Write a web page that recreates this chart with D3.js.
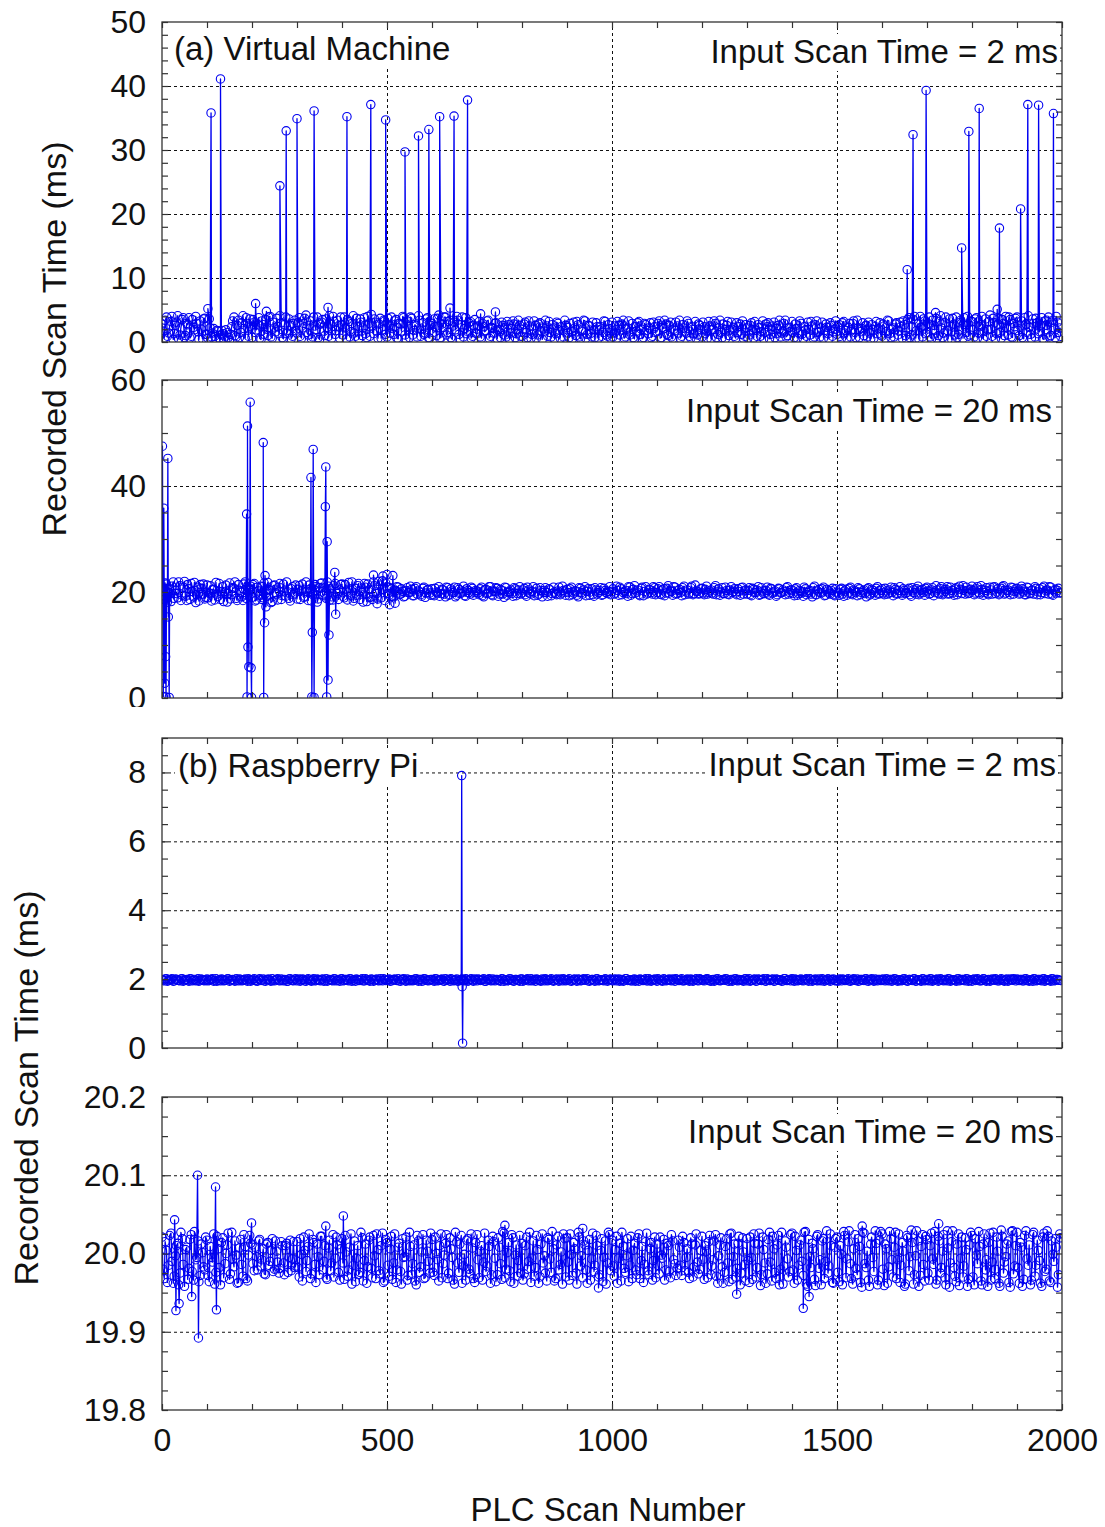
<!DOCTYPE html>
<html><head><meta charset="utf-8">
<script src="https://cdn.jsdelivr.net/npm/d3@7"></script>
<style>
body{margin:0;background:#fff}
svg{display:block}
text{font-family:"Liberation Sans",Arial,Helvetica,sans-serif;fill:#111}
</style>
</head><body>
<svg id="c" width="1105" height="1527"></svg>
<script>
// ---------------- DATA ----------------
// Samples estimated from the figure, in ms.
// "...Base" arrays: scan = index*5 ; "...Mid" arrays: scan = index*5 + 2
const vm2Base = [
2.8,0.6,3.9,1.4,3.2,0.4,2.6,4.1,1.1,3.5,0.7,2.9,3.8,0.9,2.3,4.0,1.6,3.3,0.5,3.7,
1.2,3.6,0.8,2.1,0.5,1.7,0.4,1.3,0.9,1.5,0.3,2.4,3.9,0.8,3.4,1.5,4.1,0.6,2.9,3.6,
0.7,3.1,1.9,3.8,0.4,2.7,3.5,1.0,4.0,0.6,2.2,3.7,1.3,3.0,0.5,3.9,1.8,2.6,0.9,3.4,
1.4,3.8,0.6,2.9,4.2,1.1,3.3,0.8,2.5,3.9,0.4,3.1,1.7,3.6,0.9,2.8,4.0,1.2,3.4,0.6,
2.7,3.9,0.5,3.2,1.6,4.1,0.9,2.4,3.6,1.0,3.8,0.7,2.9,4.3,1.3,3.1,0.6,3.7,1.9,3.3,
0.8,2.6,3.9,1.2,3.5,0.5,2.8,4.0,1.1,3.3,0.7,3.7,1.8,2.5,4.1,0.9,3.0,1.4,3.8,0.6,
2.9,3.6,1.0,4.2,0.7,2.3,3.9,1.5,3.4,0.4,3.1,4.0,1.2,2.7,0.8,3.8,1.6,3.2,0.9,3.5,
1.3,3.2,0.6,2.4,1.8,3.4,0.9,2.1,2.9,0.5,1.6,3.1,2.2,0.8,2.7,1.4,3.3,0.7,1.9,2.6,
0.9,2.8,1.5,3.3,0.6,2.0,2.6,1.1,3.0,0.4,1.7,2.5,3.2,0.8,2.2,1.3,2.9,0.6,1.8,3.4,
2.3,0.7,1.6,3.1,1.0,2.7,0.5,2.0,3.3,1.2,2.5,0.8,1.9,3.0,0.6,2.4,1.5,3.2,0.9,2.1,
3.1,1.4,0.6,2.6,1.9,3.4,0.8,2.2,1.1,2.9,0.5,1.7,3.2,2.0,0.7,2.7,1.3,3.0,0.9,2.4,
1.6,3.3,0.7,2.1,2.8,1.0,3.1,0.5,1.8,2.5,3.4,0.9,2.2,1.4,2.9,0.6,2.0,3.2,1.1,2.6,
0.8,2.4,1.7,3.2,0.5,2.0,2.9,1.2,3.4,0.7,1.9,2.6,1.0,3.1,2.3,0.6,1.5,2.8,3.3,0.9,
2.2,1.1,3.0,0.6,1.8,2.7,0.9,3.3,1.5,2.4,0.5,2.0,3.1,1.3,2.6,0.8,1.7,3.4,1.0,2.3,
3.2,0.7,2.1,1.4,2.9,0.5,1.9,3.1,1.1,2.5,0.8,3.3,1.6,2.2,0.6,2.8,1.3,3.0,0.9,2.0,
1.2,2.7,0.6,3.2,1.8,2.3,0.8,2.9,1.5,3.4,0.7,2.1,1.0,2.6,3.1,0.5,1.9,2.4,1.3,3.0,
0.9,2.5,1.6,3.3,0.7,2.2,2.8,1.1,3.1,0.6,2.7,0.4,3.8,1.1,3.5,0.6,2.9,4.0,0.8,3.3,
1.5,3.9,0.5,2.6,3.7,1.0,4.1,0.7,3.0,1.8,3.6,0.4,2.8,3.9,1.2,3.4,0.6,2.5,4.0,1.1,
3.2,0.8,3.8,1.4,2.7,0.5,3.6,1.9,4.2,0.9,3.0,1.3,3.7,0.6,2.9,4.0,1.1,3.5,0.7,2.4,
3.9,1.0,3.3,0.5,2.8,4.1,1.2,3.6,0.8,3.0,1.6,3.8,0.4,2.6,3.9,1.0,3.4,0.7,3.1,2.2
];
const vm2Mid = [
1.7,3.4,0.9,2.5,4.0,1.3,3.1,0.5,2.2,3.8,1.0,2.7,0.6,3.5,1.9,2.9,0.4,2.0,3.6,1.2,
0.6,2.2,1.4,0.9,1.8,0.6,1.1,0.5,1.9,0.7,1.2,3.3,1.0,2.6,0.7,3.0,2.1,3.8,0.9,2.4,
3.5,1.5,2.8,0.6,3.3,1.2,2.0,3.9,0.8,3.1,1.6,2.4,4.1,0.7,2.7,1.3,3.6,0.5,2.9,1.8,
3.0,0.9,2.2,3.7,1.5,2.6,0.5,3.9,1.9,0.7,2.8,3.5,1.0,2.3,4.1,0.6,3.2,1.8,2.5,3.9,
1.1,2.2,3.5,0.8,2.9,1.4,3.7,0.5,3.1,2.2,1.3,4.0,0.9,2.5,3.6,1.7,2.8,0.6,3.4,1.2,
3.7,1.4,2.1,3.3,0.6,2.9,1.7,3.8,0.5,2.4,3.9,1.1,2.7,0.8,3.4,2.0,1.2,3.6,0.7,2.6,
1.5,2.4,3.7,0.6,2.8,3.9,1.1,3.2,0.7,2.5,1.9,3.4,0.5,3.9,2.1,1.3,3.0,0.6,2.6,1.4,
2.5,0.8,2.9,1.6,3.3,0.6,2.3,1.4,3.0,1.9,0.7,2.6,1.1,3.2,0.5,2.1,2.8,1.3,3.4,0.9,
2.0,3.1,0.7,2.5,1.2,3.3,0.6,2.8,1.8,2.2,3.4,0.9,1.5,2.7,0.5,3.1,1.9,2.4,0.8,2.6,
1.4,2.9,0.5,2.2,3.2,0.8,1.7,3.4,0.6,2.6,1.3,3.1,0.7,2.4,1.9,0.9,3.3,1.1,2.7,0.6,
0.8,2.5,3.2,1.1,2.8,0.6,2.0,3.3,1.6,0.7,2.4,3.0,1.2,0.5,2.9,1.8,2.2,0.7,3.1,1.5,
2.9,0.6,2.3,3.4,1.2,2.6,0.8,2.0,3.1,1.4,0.6,2.7,1.7,3.3,0.9,2.4,1.3,0.6,2.8,1.9,
3.1,1.3,0.6,2.5,1.9,3.3,0.7,2.2,1.5,2.8,0.5,3.2,1.8,2.0,0.9,3.0,2.4,1.2,0.6,2.7,
0.6,2.6,1.9,3.2,0.9,2.3,1.6,0.5,2.8,3.0,1.2,2.5,0.7,2.1,3.4,1.4,2.9,0.8,2.2,1.7,
1.5,2.8,0.6,3.3,1.2,2.4,0.9,2.0,3.2,0.6,2.7,1.5,0.8,3.1,1.8,2.3,0.5,2.6,1.6,3.3,
2.4,0.9,3.0,1.4,0.6,2.9,1.9,3.3,0.7,2.2,1.6,3.0,2.5,0.8,1.4,2.7,0.6,3.2,2.1,1.1,
2.8,0.6,3.4,1.3,2.0,0.8,3.0,1.7,2.4,3.3,1.0,3.5,0.7,2.4,4.0,1.8,0.5,2.3,3.6,1.3,
2.9,0.8,3.4,1.9,0.6,3.2,2.2,1.4,3.9,0.5,2.5,3.7,1.1,0.7,3.0,2.0,3.8,1.5,0.9,3.3,
1.9,3.6,0.6,2.4,4.0,1.7,0.9,3.2,2.0,3.7,0.5,2.8,1.5,3.5,1.0,2.2,3.9,0.8,2.9,3.7,
1.8,2.5,0.7,3.8,1.5,2.3,0.6,2.9,3.7,1.3,2.6,0.5,3.3,1.9,0.8,3.1,2.2,4.0,1.5,0.9
];
// Individual outliers [scan, ms]
const vm2Spikes = [
[102,5.2],[109,35.8],[130,41.1],[133,1.8],[208,6.0],[232,4.8],[262,24.4],[276,33.0],[300,34.9],
[338,36.1],[369,5.4],[411,35.2],[464,37.1],[497,34.7],[540,29.7],[570,32.2],[593,33.2],[617,35.2],
[640,5.3],[649,35.3],[679,37.8],[708,4.4],[741,4.7],[1656,11.3],[1669,32.4],[1698,39.3],[1719,4.6],
[1777,14.7],[1793,32.9],[1816,36.5],[1856,5.1],[1861,17.8],[1908,20.8],[1924,37.1],[1948,37.0],
[1966,3.4],[1981,35.7]
];

const vm20Base = [
20.8,18.6,21.5,19.9,18.2,21.9,20.3,18.9,21.2,19.4,22.0,18.4,20.6,21.6,19.1,18.0,20.9,21.4,19.6,18.7,
21.3,19.8,18.3,20.5,21.8,19.2,18.6,21.0,20.1,18.1,21.7,19.5,20.7,18.8,21.4,20.0,18.4,21.9,19.3,20.6,
19.0,21.6,18.5,20.2,21.1,18.9,19.7,21.8,20.4,18.2,21.3,19.6,20.9,18.6,21.5,19.2,20.0,18.3,21.0,19.8,
18.7,21.2,20.3,19.0,21.9,18.4,20.6,19.5,21.4,18.1,20.8,21.7,19.3,18.8,21.1,20.2,18.5,21.6,19.7,20.4,
21.5,18.9,20.1,21.8,19.4,18.3,20.7,21.2,18.6,19.9,21.6,18.2,20.4,19.1,21.9,20.0,18.7,21.3,22.1,18.4,
21.0,19.4,20.6,19.1,20.3,20.9,19.6,20.1,19.2,20.8,19.9,20.5,19.3,21.0,20.2,19.5,20.7,19.0,20.4,19.8,
20.6,19.3,20.0,21.0,19.7,20.4,19.1,20.8,19.5,20.2,20.9,19.4,20.5,19.8,21.1,19.2,20.3,19.6,20.7,19.9,
20.2,19.5,20.9,19.1,20.5,19.8,21.0,19.3,20.1,20.7,19.6,20.3,19.0,20.8,19.9,20.4,19.2,20.6,19.7,21.0,
19.8,20.7,19.2,20.4,19.6,21.0,20.0,19.4,20.8,19.1,20.3,19.9,20.6,19.3,20.9,19.7,20.2,19.5,21.1,20.0,
20.5,19.3,20.9,19.8,20.2,19.1,20.7,19.6,21.0,20.1,19.4,20.6,19.2,20.4,19.9,20.8,19.5,20.3,19.7,21.0,
20.1,19.6,21.1,19.4,20.6,19.9,20.3,19.2,20.9,19.7,21.2,20.0,19.5,20.7,19.3,21.0,19.8,20.4,19.6,20.8,
19.9,21.0,19.5,20.6,19.8,21.2,20.2,19.4,20.9,19.7,20.5,19.3,21.1,20.0,19.6,20.8,19.5,21.3,20.1,19.7,
20.7,19.5,21.1,19.9,20.4,19.6,21.2,20.0,19.4,20.8,19.7,20.3,19.5,21.0,20.1,19.8,20.6,19.4,20.9,20.2,
19.6,20.8,19.3,20.5,19.9,21.0,19.5,20.2,19.7,20.9,19.4,20.6,20.0,19.2,20.7,19.8,20.4,19.5,21.0,19.9,
20.4,19.3,20.8,19.7,20.1,19.2,20.6,19.9,20.3,19.1,21.1,19.5,20.5,19.8,20.9,19.4,20.2,19.6,20.7,19.3,
20.0,19.4,20.7,19.2,20.5,19.8,20.9,19.5,20.2,19.3,20.6,19.9,20.4,19.1,20.8,19.6,20.3,19.4,21.0,19.7,
20.6,19.5,20.2,19.8,20.9,19.3,20.5,19.7,21.0,19.4,20.3,19.9,20.7,19.2,20.4,19.6,21.1,19.8,20.5,19.4,
20.9,19.6,20.4,19.3,21.2,19.8,20.6,19.5,20.1,21.0,19.7,20.3,19.4,20.8,19.9,20.5,21.2,19.6,20.2,19.8,
21.1,19.5,20.6,19.9,21.2,19.4,20.3,19.7,20.9,19.6,21.0,20.0,19.5,20.7,21.2,19.8,20.4,19.5,20.8,20.1,
20.7,19.6,21.1,20.0,19.5,20.8,19.7,20.4,21.0,19.5,20.6,19.9,21.1,20.2,19.6,20.9,19.4,20.5,20.3,19.8
];
const vm20Mid = [
19.3,21.7,18.1,20.6,21.1,18.8,19.7,21.9,18.4,20.9,19.2,21.4,18.6,20.1,21.8,19.5,18.3,20.7,21.5,19.0,
18.9,21.2,20.4,18.5,19.6,21.6,20.0,18.2,21.3,19.7,18.7,20.8,21.9,18.4,20.3,19.1,21.5,18.8,20.7,21.1,
21.4,18.3,20.9,19.4,18.6,21.7,19.1,20.5,18.0,21.2,19.9,18.5,21.6,19.3,20.2,21.9,18.8,20.6,19.5,21.3,
20.5,18.6,21.5,19.2,20.1,21.3,18.3,19.8,21.0,18.7,21.6,19.5,20.8,21.9,18.4,19.1,21.2,20.0,18.6,21.4,
19.2,21.4,18.5,20.6,21.9,18.8,19.4,21.6,20.3,18.1,20.9,21.5,19.0,18.6,21.2,19.7,22.0,18.9,20.5,21.7,
19.7,20.8,19.2,20.4,21.0,19.5,20.6,19.1,20.3,19.9,21.1,19.3,20.7,19.6,20.0,19.2,20.9,19.8,20.5,19.4,
19.5,20.7,19.8,19.2,20.5,19.6,20.9,19.4,20.6,19.9,19.1,20.8,19.7,20.2,19.3,20.6,19.9,20.9,19.4,20.3,
19.8,20.6,19.3,20.4,19.7,21.0,19.5,20.2,20.8,19.2,20.5,19.6,20.9,19.4,20.1,19.7,20.8,19.3,20.4,19.6,
20.4,19.5,20.9,19.8,20.1,19.3,20.7,19.6,20.3,19.9,20.8,19.2,20.4,19.7,20.0,19.5,20.9,19.8,20.3,19.4,
19.9,20.6,19.5,20.2,19.4,20.8,19.9,20.4,19.3,20.6,20.0,19.5,20.8,19.6,20.3,19.4,20.7,19.9,20.1,19.5,
20.6,19.8,20.3,20.9,19.5,20.1,19.7,21.0,19.4,20.5,19.8,20.4,19.3,20.9,20.1,19.6,20.5,19.9,21.0,19.5,
20.6,19.6,20.4,19.3,20.7,19.8,20.1,21.0,19.6,20.3,19.9,20.8,19.5,20.4,19.8,21.1,19.7,20.2,19.6,20.6,
19.8,20.5,19.6,20.2,19.8,20.8,19.5,20.6,20.0,19.7,20.9,19.6,20.4,19.9,20.6,19.5,20.1,20.8,19.6,20.4,
20.3,19.5,20.7,19.9,20.4,19.4,20.8,19.7,20.3,19.6,20.7,19.8,20.2,19.5,20.6,19.9,20.1,20.8,19.6,20.4,
19.7,20.6,19.4,20.3,19.8,20.9,19.5,20.2,19.6,20.8,19.5,20.2,19.9,20.6,19.3,20.5,19.8,20.3,19.5,20.6,
19.8,20.5,19.6,20.2,19.4,20.7,19.7,20.4,19.9,20.8,19.5,20.2,19.7,20.6,19.4,20.5,19.9,20.7,19.6,20.3,
19.8,20.7,19.6,20.4,19.9,20.8,19.6,20.3,19.8,20.6,19.7,20.4,19.5,20.8,19.9,20.6,19.5,20.3,19.9,20.7,
20.2,19.7,20.8,19.9,20.4,19.6,21.0,19.8,20.5,19.6,20.9,19.8,20.6,19.5,21.1,19.7,20.3,20.9,19.7,20.5,
20.3,19.8,21.0,19.6,20.5,19.9,20.8,19.5,20.4,20.9,19.7,20.6,19.8,21.0,19.6,20.3,19.9,20.9,19.6,20.6,
20.2,19.8,20.6,19.5,20.9,19.7,20.3,19.6,20.7,20.0,19.5,20.8,19.7,20.4,21.0,19.6,20.2,19.8,20.7,19.9
];
const vm20Spikes = [
[1,47.5],[3,0.3],[4,35.8],[6,2.8],[8,7.8],[9,0.2],[11,20.6],[13,45.2],[14,15.3],[16,0.1],[18,19.8],
[186,20.5],[188,34.7],[189,0.2],[191,9.6],[190,51.3],[193,5.9],[194,20.4],[196,55.8],[198,5.7],[199,0.1],[201,20.2],
[224,21.0],[225,48.2],[226,0.1],[228,14.2],[229,23.1],[231,17.2],[233,20.3],
[330,20.1],[331,41.6],[333,0.2],[334,12.4],[336,46.9],[338,0.1],[339,20.3],
[361,19.8],[363,36.1],[364,43.6],[366,0.2],[367,29.5],[369,3.4],[371,11.9],[373,20.6],
[384,23.7],[386,15.8],[470,23.2],[478,17.8],[491,23.0],[500,23.3],[506,17.6],[513,23.1],[518,17.9]
];

const pi2Base = [
1.99,1.95,2.01,1.96,1.98,1.94,2.00,1.97,1.95,2.01,1.96,1.99,1.94,2.00,1.97,1.95,2.01,1.96,1.98,1.95,
2.00,1.96,1.98,1.94,2.01,1.97,1.95,1.99,1.96,2.00,1.94,1.98,1.97,2.01,1.95,1.99,1.96,2.00,1.94,1.98,
1.97,2.01,1.95,1.99,1.96,2.00,1.94,1.98,1.97,2.01,1.95,1.99,1.96,2.00,1.95,1.98,1.94,2.01,1.96,1.99,
1.95,2.00,1.97,1.99,1.94,2.01,1.96,1.98,1.95,2.00,1.97,1.99,1.94,2.01,1.96,1.98,1.95,2.00,1.97,1.94,
2.01,1.96,1.99,1.95,2.00,1.97,1.94,1.98,1.96,2.01,1.95,1.99,1.97,2.00,1.94,1.98,1.96,2.01,1.95,1.99,
1.96,2.00,1.95,1.98,1.97,2.01,1.94,1.99,1.96,2.00,1.95,1.98,1.97,2.01,1.94,1.99,1.95,2.00,1.96,1.98,
1.99,1.94,2.00,1.96,1.98,1.95,2.01,1.97,1.94,1.99,1.96,2.00,1.95,1.98,1.97,2.01,1.94,1.99,1.96,2.00,
1.95,1.99,1.97,2.01,1.94,1.98,1.96,2.00,1.95,1.99,1.97,2.01,1.94,1.98,1.96,2.00,1.95,1.99,1.97,1.94,
2.00,1.96,1.98,1.95,2.01,1.97,1.94,1.99,1.96,2.00,1.95,1.98,1.97,2.01,1.94,1.99,1.96,2.00,1.95,1.98,
1.97,2.01,1.94,1.99,1.96,2.00,1.95,1.98,1.97,2.01,1.94,1.99,1.96,2.00,1.95,1.98,1.97,2.01,1.94,1.99,
1.96,1.99,1.95,2.00,1.97,1.94,2.01,1.96,1.98,1.95,2.00,1.97,1.94,1.99,1.96,2.01,1.95,1.98,1.97,2.00,
1.94,1.99,1.96,2.01,1.95,1.98,1.97,2.00,1.94,1.99,1.96,2.01,1.95,1.98,1.97,2.00,1.94,1.99,1.96,2.01,
1.98,1.95,2.00,1.97,1.94,1.99,1.96,2.01,1.95,1.98,1.97,2.00,1.94,1.99,1.96,2.01,1.95,1.98,1.97,2.00,
1.95,2.01,1.96,1.99,1.94,2.00,1.97,1.98,1.95,2.01,1.96,1.99,1.94,2.00,1.97,1.98,1.95,2.01,1.96,1.99,
2.01,1.94,1.98,1.96,2.00,1.95,1.99,1.97,2.01,1.94,1.98,1.96,2.00,1.95,1.99,1.97,2.01,1.94,1.98,1.96,
1.97,2.00,1.95,1.99,1.96,2.01,1.94,1.98,1.97,2.00,1.95,1.99,1.96,2.01,1.94,1.98,1.97,2.00,1.95,1.99,
1.96,1.98,2.01,1.95,1.99,1.97,2.00,1.94,1.98,1.96,2.01,1.95,1.99,1.97,2.00,1.94,1.98,1.96,2.01,1.95,
1.99,1.95,2.00,1.96,1.98,1.94,2.01,1.97,1.99,1.95,2.00,1.96,1.98,1.94,2.01,1.97,1.99,1.95,2.00,1.96,
1.94,2.00,1.97,1.99,1.95,2.01,1.96,1.98,1.94,2.00,1.97,1.99,1.95,2.01,1.96,1.98,1.94,2.00,1.97,1.99,
2.00,1.96,1.99,1.95,2.01,1.97,1.98,1.94,2.00,1.96,1.99,1.95,2.01,1.97,1.98,1.94,2.00,1.96,1.99,1.97
];
const pi2Mid = [
1.97,2.00,1.94,1.98,2.01,1.95,1.99,1.96,2.00,1.94,1.98,1.96,2.01,1.95,1.99,1.97,1.94,2.00,1.96,1.98,
1.95,1.99,2.01,1.96,1.94,1.98,2.00,1.95,1.97,2.01,1.96,1.99,1.94,1.97,2.00,1.95,1.98,1.96,2.01,1.94,
1.99,1.96,1.94,2.01,1.97,1.95,1.99,2.00,1.94,1.96,1.98,2.01,1.95,1.97,1.99,1.94,2.00,1.97,1.95,2.01,
1.98,1.94,2.00,1.95,1.99,1.97,1.94,2.01,1.96,1.98,1.95,2.00,1.97,1.94,1.99,1.96,2.01,1.95,1.98,2.00,
1.95,1.99,1.97,2.01,1.94,1.98,2.00,1.96,1.99,1.95,2.01,1.97,1.94,1.99,1.96,2.00,1.95,1.97,2.01,1.96,
1.99,1.94,1.98,2.00,1.96,1.95,1.99,2.01,1.94,1.97,1.98,1.95,2.00,1.96,1.99,1.94,2.01,1.97,1.95,1.99,
1.96,2.01,1.95,1.98,2.00,1.94,1.97,1.99,2.01,1.95,1.98,1.94,1.97,2.00,1.95,1.99,1.96,2.01,1.94,1.98,
2.00,1.96,1.99,1.94,1.98,2.01,1.95,1.97,1.99,1.96,1.94,2.00,1.98,1.95,2.01,1.97,1.94,1.99,1.96,2.00,
1.94,1.98,2.01,1.97,1.95,1.99,2.00,1.96,1.94,1.98,2.01,1.95,1.99,1.96,1.97,2.00,1.94,1.98,2.01,1.95,
1.98,1.95,1.97,2.00,1.94,1.99,1.96,2.01,1.98,1.95,1.97,1.99,1.94,2.01,1.96,1.98,1.95,1.99,1.97,2.00,
1.95,2.00,1.98,1.94,1.99,1.96,2.01,1.97,1.95,1.99,1.94,1.98,2.00,1.96,1.99,1.95,2.01,1.94,1.98,1.97,
2.01,1.96,1.94,1.99,1.97,2.00,1.95,1.98,2.01,1.96,1.99,1.95,1.97,2.00,1.94,1.98,1.96,2.01,1.95,1.99,
1.96,1.99,2.01,1.95,1.98,1.94,2.00,1.97,1.96,1.99,2.01,1.95,1.98,1.94,2.00,1.96,1.99,1.97,1.94,2.01,
1.98,1.94,1.97,2.00,1.95,1.99,1.96,2.01,1.94,1.98,1.96,2.00,1.95,1.99,1.97,1.94,2.01,1.96,1.98,1.95,
1.97,2.00,1.95,1.99,1.96,1.98,2.01,1.94,1.99,1.96,2.00,1.95,1.97,2.01,1.94,1.98,1.96,1.99,2.00,1.95,
1.94,1.98,2.00,1.96,1.99,1.95,1.97,2.01,1.96,1.94,1.99,1.97,2.00,1.95,1.98,2.01,1.94,1.97,1.99,1.96,
2.00,1.95,1.97,1.99,1.94,2.01,1.96,1.98,1.95,2.00,1.97,1.94,1.99,1.96,2.01,1.95,1.98,1.94,2.00,1.97,
1.96,2.01,1.94,1.98,2.00,1.96,1.99,1.95,1.97,2.01,1.94,1.98,1.96,2.00,1.95,1.99,1.97,2.01,1.94,1.98,
1.99,1.96,2.01,1.95,1.97,2.00,1.94,1.99,1.96,1.98,2.01,1.95,1.99,1.97,1.94,2.00,1.96,1.98,2.01,1.95,
1.97,1.99,1.95,2.00,1.96,1.94,1.98,2.01,1.95,1.99,1.97,2.00,1.94,1.98,1.96,2.01,1.95,1.99,1.97,1.96
];
const pi2Spikes = [[664,1.99],[666,7.91],[667,1.78],[668,0.14],[669,1.97]];

const pi20Base = [
20.021,19.968,20.004,19.985,20.026,19.962,19.997,20.013,19.975,20.019,19.958,20.008,19.981,20.024,19.966,19.992,20.016,19.972,20.001,19.979,
20.017,19.964,19.995,20.025,19.976,20.006,19.960,20.020,19.987,20.011,19.967,20.027,19.983,19.998,19.963,20.018,19.971,20.009,19.965,20.023,
20.011,19.978,19.996,20.016,19.984,20.006,19.973,20.014,19.990,20.019,19.980,20.003,19.975,20.015,19.988,20.010,19.976,20.017,19.993,19.982,
20.015,19.970,19.999,20.021,19.977,20.009,19.968,20.018,19.986,20.012,19.973,20.022,19.990,19.969,20.007,19.978,20.024,19.994,20.011,19.966,
20.019,19.967,20.002,19.979,20.025,19.985,19.964,20.010,19.976,20.020,19.991,19.962,20.017,19.981,20.023,19.968,20.005,19.974,20.026,19.965,
20.014,19.971,20.022,19.988,19.963,20.008,19.977,20.019,19.996,19.966,20.027,19.973,20.011,19.960,20.016,19.983,20.024,19.969,20.003,19.975,
20.018,19.972,20.000,19.965,20.025,19.987,20.013,19.968,20.020,19.995,19.961,20.015,19.976,20.023,19.984,19.966,20.019,19.974,20.007,19.963,
20.024,19.969,20.010,19.989,19.977,20.017,19.962,20.022,19.994,19.973,20.008,19.967,20.026,19.980,20.014,19.964,20.020,19.998,19.971,20.023,
20.013,19.974,20.021,19.990,19.963,20.016,19.982,20.005,19.970,20.025,19.997,19.965,20.018,19.976,20.006,19.968,20.022,19.986,19.961,20.019,
20.020,19.966,19.999,20.014,19.975,20.027,19.984,19.969,20.011,19.962,20.018,19.993,19.977,20.023,19.970,20.004,19.964,20.016,19.988,20.024,
20.017,19.971,20.022,19.994,19.965,20.009,19.976,20.019,19.985,19.968,20.013,19.973,20.025,19.991,19.963,20.015,19.978,20.006,19.966,20.021,
20.012,19.974,19.998,20.018,19.979,20.010,19.969,20.016,19.987,19.981,20.008,19.972,20.014,19.995,19.976,20.020,19.970,20.011,19.989,19.980,
20.022,19.967,20.003,20.015,19.973,19.992,20.024,19.962,20.011,19.983,19.976,20.019,19.964,20.026,19.996,19.970,20.013,19.960,20.020,19.986,
20.019,19.963,19.995,20.025,19.970,20.012,19.959,20.021,19.988,19.974,20.027,19.965,20.006,19.968,20.023,19.980,19.961,20.016,19.993,19.977,
20.026,19.962,20.004,19.985,20.017,19.972,20.028,19.958,19.996,20.013,19.967,20.022,19.981,19.960,20.019,19.990,19.975,20.025,19.963,20.008,
20.021,19.964,19.999,20.028,19.969,20.015,19.987,19.961,20.024,19.973,20.009,19.957,20.026,19.982,19.966,20.012,19.995,20.029,19.960,20.017,
20.025,19.959,20.006,19.983,20.019,19.970,20.027,19.992,19.963,20.014,19.958,20.023,19.978,20.030,19.961,19.997,20.016,19.972,20.024,19.965,
20.018,19.966,20.026,19.986,19.961,20.022,19.975,20.003,19.969,20.029,19.957,20.015,19.982,19.964,20.025,19.994,19.970,20.020,19.958,20.011,
20.023,19.960,19.998,20.028,19.965,20.012,19.979,19.958,20.026,19.989,19.968,20.021,19.962,20.030,19.975,19.996,20.016,19.957,20.029,19.984,
20.027,19.962,20.008,19.967,20.029,19.985,19.960,20.024,19.971,20.017,19.991,19.958,20.026,19.980,20.022,19.963,19.999,20.019,19.957,20.025
];
const pi20Mid = [
19.980,20.015,19.963,20.023,19.990,19.971,20.010,19.960,20.027,19.986,20.005,19.967,20.018,19.977,20.028,19.995,19.964,20.012,19.983,20.021,
19.972,20.009,19.989,19.961,20.022,19.982,20.014,19.969,20.000,20.026,19.974,19.993,20.016,19.962,20.007,19.986,20.024,19.968,19.998,20.013,
19.987,20.008,19.979,20.018,19.992,19.974,20.012,19.985,20.004,19.977,20.016,19.989,19.981,20.010,19.973,20.013,19.995,19.978,20.015,19.984,
19.982,20.019,19.965,20.004,19.991,20.025,19.974,20.014,19.963,19.996,20.022,19.979,20.010,19.967,20.017,19.988,19.970,20.021,19.976,20.006,
19.988,20.023,19.971,20.008,19.961,20.016,19.994,19.973,20.027,19.965,20.012,19.983,20.021,19.969,19.997,20.025,19.978,20.010,19.963,20.018,
19.985,20.006,19.967,20.025,19.979,20.013,19.961,19.995,20.021,19.972,20.009,19.987,19.965,20.023,19.976,20.002,19.968,20.017,19.990,20.026,
19.976,20.021,19.992,20.010,19.969,19.998,20.024,19.975,20.006,19.966,20.027,19.988,20.012,19.962,19.999,20.017,19.980,20.025,19.968,20.014,
19.992,20.003,19.966,20.026,19.984,20.009,19.973,20.015,19.964,20.020,19.987,20.028,19.969,20.001,19.978,20.024,19.962,20.011,19.991,19.975,
19.966,20.010,19.980,20.027,19.994,19.971,20.023,19.962,20.012,19.988,19.975,20.020,19.993,20.028,19.965,20.011,19.979,20.002,20.025,19.970,
19.989,20.025,19.972,20.006,19.961,20.021,19.997,20.016,19.979,20.004,19.966,20.026,19.985,20.010,19.973,20.019,19.995,19.961,20.027,19.978,
19.984,20.005,19.962,20.013,20.027,19.981,19.997,19.964,20.022,20.004,19.979,20.020,19.968,20.009,19.986,20.026,19.973,20.014,19.991,19.969,
19.985,20.021,19.994,19.966,20.013,19.977,20.024,19.992,19.972,20.017,19.985,20.022,19.978,20.006,19.968,20.012,19.983,20.025,19.974,20.004,
19.992,20.010,19.969,20.023,19.984,20.016,19.971,19.997,20.020,19.962,20.009,19.988,20.025,19.967,20.012,19.981,20.022,19.975,20.002,19.965,
19.991,20.021,19.967,20.013,19.982,20.026,19.973,20.005,19.962,20.018,19.989,20.022,19.976,20.011,19.960,20.027,19.984,20.008,19.970,20.024,
19.979,20.022,19.966,20.011,19.990,20.027,19.961,20.018,19.982,20.006,19.959,20.024,19.992,20.016,19.968,20.029,19.984,20.010,19.962,20.019,
19.976,20.010,19.960,20.023,19.993,20.029,19.968,20.006,19.981,20.019,19.963,20.027,19.987,20.003,19.958,20.021,19.977,20.013,19.966,20.028,
19.980,20.012,19.962,20.028,19.992,20.008,19.968,20.025,19.985,20.003,19.961,20.020,19.996,20.014,19.973,20.029,19.958,20.009,19.986,20.022,
19.975,20.010,19.993,20.028,19.966,20.016,19.982,20.024,19.960,20.007,19.988,20.029,19.971,20.012,19.959,20.021,19.984,20.005,19.967,20.027,
19.970,20.019,19.987,20.009,19.960,20.025,19.992,20.014,19.966,20.027,19.980,20.003,19.958,20.022,19.989,20.012,19.963,20.028,19.974,20.010,
19.982,20.014,19.958,20.023,19.993,20.011,19.966,20.027,19.985,20.004,19.962,20.021,19.977,20.029,19.965,20.016,19.990,20.008,19.973,20.020
];
const pi20Spikes = [
[28,20.043],[31,19.927],[38,19.936],[66,19.945],[79,20.100],[81,19.892],[119,20.085],[121,19.928],
[199,20.039],[364,20.035],[403,20.048],[762,20.036],[935,20.032],[970,19.956],[1277,19.948],
[1425,19.930],[1438,19.945],[1556,20.035],[1726,20.038]
];

const xTickLabels = [0,500,1000,1500,2000];
const xGridValues = [500,1000,1500];
const yLabels1 = [0,10,20,30,40,50];
const yLabels2 = [0,20,40,60];
const yLabels3 = [0,2,4,6,8];
const yLabels4 = [19.8,19.9,20.0,20.1,20.2];
const titleLeft = ["(a) Virtual Machine", "", "(b) Raspberry Pi", ""];
const titleRight = ["Input Scan Time = 2 ms", "Input Scan Time = 20 ms", "Input Scan Time = 2 ms", "Input Scan Time = 20 ms"];
const yTitle = "Recorded Scan Time (ms)";
const xTitle = "PLC Scan Number";

// ---------------- DRAW ----------------
const svg = d3.select("#c");
const X0 = 162, X1 = 1062;
const BLUE = "#0000f0";
const FRAME = "#333";
const x = d3.scaleLinear().domain([0,2000]).range([X0,X1]);

const panels = [
 {top:22, bottom:342, domain:[0,50], labels:yLabels1, minor:d3.range(0,50.001,2), grid:[10,20,30,40], fmt:d3.format("d"),
  base:vm2Base, mid:vm2Mid, spikes:vm2Spikes, tl:{x:174,y:60}, tr:{x:1058,y:63}},
 {top:380, bottom:698, domain:[0,60], labels:yLabels2, minor:d3.range(0,60.001,5), grid:[20,40], fmt:d3.format("d"),
  base:vm20Base, mid:vm20Mid, spikes:vm20Spikes, tl:null, tr:{x:1052,y:422}},
 {top:738, bottom:1048, domain:[0,9], labels:yLabels3, minor:d3.range(0,9.001,0.5), grid:[2,4,6,8], fmt:d3.format("d"),
  base:pi2Base, mid:pi2Mid, spikes:pi2Spikes, tl:{x:178,y:777}, tr:{x:1056,y:776}},
 {top:1097, bottom:1410, domain:[19.8,20.2], labels:yLabels4, minor:d3.range(0,17).map(i=>19.8+i*0.025), grid:[19.9,20.0,20.1], fmt:d3.format(".1f"),
  base:pi20Base, mid:pi20Mid, spikes:pi20Spikes, tl:null, tr:{x:1054,y:1143}}
];

const xMinor = d3.range(0,2001,100);

panels.forEach((p,k)=>{
  const y = d3.scaleLinear().domain(p.domain).range([p.bottom,p.top]);
  const h = p.bottom - p.top;
  const g = svg.append("g");
  const cid = "clip"+k;
  svg.append("clipPath").attr("id",cid).append("rect")
    .attr("x",X0).attr("y",p.top).attr("width",X1-X0).attr("height",h);

  // grid
  const gy = g.append("g").attr("transform",`translate(${X0},0)`)
    .call(d3.axisLeft(y).tickValues(p.grid).tickSize(-(X1-X0)).tickFormat(""));
  gy.select(".domain").remove();
  gy.selectAll("line").attr("stroke","#111").attr("stroke-width",1).attr("stroke-dasharray","3,3");
  const gx = g.append("g").attr("transform",`translate(0,${p.bottom})`)
    .call(d3.axisBottom(x).tickValues(xGridValues).tickSize(-h).tickFormat(""));
  gx.select(".domain").remove();
  gx.selectAll("line").attr("stroke","#111").attr("stroke-width",1).attr("stroke-dasharray","3,3");

  // data
  const pts = p.base.map((v,i)=>[i*5,v])
    .concat(p.mid.map((v,i)=>[i*5+2,v]))
    .concat(p.spikes)
    .sort((a,b)=>a[0]-b[0]);
  const dg = g.append("g").attr("clip-path",`url(#${cid})`);
  dg.append("path").datum(pts)
    .attr("d", d3.line().x(d=>x(d[0])).y(d=>y(d[1])))
    .attr("fill","none").attr("stroke",BLUE).attr("stroke-width",1.3).attr("stroke-linejoin","round");
  dg.selectAll("circle").data(pts).join("circle")
    .attr("cx",d=>x(d[0])).attr("cy",d=>y(d[1])).attr("r",4.2)
    .attr("fill","none").attr("stroke",BLUE).attr("stroke-width",1.1);

  // frame + inward ticks
  const tk = (sel)=>{ sel.select(".domain").remove(); sel.selectAll("line").attr("stroke",FRAME).attr("stroke-width",1.2); };
  g.append("g").attr("transform",`translate(${X0},0)`).call(d3.axisLeft(y).tickValues(p.minor).tickSize(-6).tickFormat("")).call(tk);
  g.append("g").attr("transform",`translate(${X1},0)`).call(d3.axisRight(y).tickValues(p.minor).tickSize(-6).tickFormat("")).call(tk);
  g.append("g").attr("transform",`translate(0,${p.top})`).call(d3.axisTop(x).tickValues(xMinor).tickSize(-6).tickFormat("")).call(tk);
  g.append("g").attr("transform",`translate(0,${p.bottom})`).call(d3.axisBottom(x).tickValues(xMinor).tickSize(-6).tickFormat("")).call(tk);
  g.append("rect").attr("x",X0).attr("y",p.top).attr("width",X1-X0).attr("height",h)
    .attr("fill","none").attr("stroke",FRAME).attr("stroke-width",1.3);

  // y tick labels
  const yl = g.append("g").attr("transform",`translate(${X0},0)`)
    .call(d3.axisLeft(y).tickValues(p.labels).tickSize(0).tickPadding(16).tickFormat(p.fmt));
  yl.select(".domain").remove();
  yl.selectAll("text").attr("font-size",32).attr("fill","#111")
    .attr("font-family",'"Liberation Sans",Arial,sans-serif');

  // annotations with white backing
  const addLabel = (txt, pos, anchor)=>{
    const t = g.append("text").attr("x",pos.x).attr("y",pos.y).attr("text-anchor",anchor)
      .attr("font-size",33).text(txt);
    const bb = t.node().getBBox();
    g.insert("rect", ()=>t.node()).attr("x",bb.x-3).attr("y",bb.y+1).attr("width",bb.width+5).attr("height",bb.height)
      .attr("fill","#fff");
  };
  if (p.tl && titleLeft[k]) addLabel(titleLeft[k], p.tl, "start");
  addLabel(titleRight[k], p.tr, "end");

  // bottom x labels
  if (k === 3) {
    const xl = g.append("g").attr("transform",`translate(0,${p.bottom})`)
      .call(d3.axisBottom(x).tickValues(xTickLabels).tickSize(0).tickPadding(18).tickFormat(d3.format("d")));
    xl.select(".domain").remove();
    xl.selectAll("text").attr("font-size",32).attr("fill","#111")
      .attr("font-family",'"Liberation Sans",Arial,sans-serif');
  }
});

// lower part of panel-2 "0" label is covered by panel (b) in the original
svg.append("rect").attr("x",80).attr("y",707).attr("width",80).attr("height",22).attr("fill","#fff");

// axis titles
svg.append("text").attr("transform","translate(66,339) rotate(-90)").attr("text-anchor","middle")
  .attr("font-size",34).text(yTitle);
svg.append("text").attr("transform","translate(38,1088) rotate(-90)").attr("text-anchor","middle")
  .attr("font-size",34).text(yTitle);
svg.append("text").attr("x",608).attr("y",1521).attr("text-anchor","middle")
  .attr("font-size",33).text(xTitle);
</script>
</body></html>
